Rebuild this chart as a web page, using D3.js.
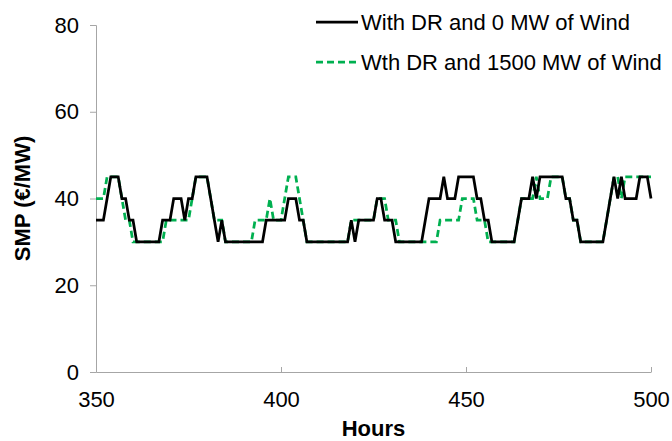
<!DOCTYPE html>
<html>
<head>
<meta charset="utf-8">
<script src="https://cdn.jsdelivr.net/npm/d3@7"></script>
<style>
  body { margin: 0; background: #fff; }
  text { font-family: "Liberation Sans", Arial, sans-serif; }
</style>
</head>
<body>
<script>
const w = 672;
const h = 441;

// hours 350..500, one value per hour
const startHour = 350;
const noWind = [
  35,35,35,40,45,45,45,40,40,35,
  35,30,30,30,30,30,30,30,35,35,
  35,40,40,40,35,40,40,45,45,45,
  45,40,35,30,35,30,30,30,30,30,
  30,30,30,30,30,30,35,35,35,35,
  35,35,40,40,40,35,35,30,30,30,
  30,30,30,30,30,30,30,30,30,35,
  30,35,35,35,35,35,40,40,35,35,
  35,30,30,30,30,30,30,30,30,35,
  40,40,40,40,45,40,40,40,45,45,
  45,45,45,40,40,35,35,30,30,30,
  30,30,30,30,35,40,40,40,45,40,
  45,45,45,45,45,45,45,40,40,35,
  35,30,30,30,30,30,30,30,35,40,
  45,40,45,40,40,40,40,45,45,45,
  40
];
const wind1500 = [
  40,40,40,45,45,45,45,40,35,35,
  30,30,30,30,30,30,30,30,30,35,
  35,35,35,35,35,35,40,45,45,45,
  45,40,35,35,35,30,30,30,30,30,
  30,30,30,35,35,35,35,40,35,35,
  35,40,45,45,45,40,35,30,30,30,
  30,30,30,30,30,30,30,30,30,35,
  35,35,35,35,35,35,40,40,40,35,
  35,35,30,30,30,30,30,30,30,30,
  30,30,30,35,35,35,35,35,35,40,
  40,40,40,35,35,35,30,30,30,30,
  30,30,30,30,35,40,40,40,40,45,
  40,40,40,45,45,45,45,40,40,35,
  35,30,30,30,30,30,30,30,35,40,
  45,45,40,45,45,45,45,45,45,45,
  45
];
const xTicks = [350, 400, 450, 500];
const yTicks = [0, 20, 40, 60, 80];
const seriesNames = ["With DR and 0 MW of Wind", "Wth DR and 1500 MW of Wind"];

const margin = { left: 96, right: 21, top: 25, bottom: 69 };

const svg = d3.select("body").append("svg").attr("width", w).attr("height", h);

const xScale = d3.scaleLinear().domain([350, 500]).range([margin.left, w - margin.right]);
const yScale = d3.scaleLinear().domain([0, 80]).range([h - margin.bottom, margin.top]);

const axisColor = "#a6a6a6";

// y axis
const yAxis = svg.append("g")
  .attr("transform", "translate(" + margin.left + ",0)")
  .call(d3.axisLeft(yScale).tickValues(yTicks).tickSize(6).tickPadding(11));
yAxis.selectAll("path, line").attr("stroke", axisColor);
yAxis.selectAll("text").attr("font-size", 22).attr("fill", "#000");

// x axis
const xAxis = svg.append("g")
  .attr("transform", "translate(0," + yScale(0) + ")")
  .call(d3.axisBottom(xScale).tickValues(xTicks).tickSizeInner(-5).tickSizeOuter(0).tickPadding(19));
xAxis.selectAll("path, line").attr("stroke", axisColor);
xAxis.selectAll("text").attr("font-size", 22).attr("fill", "#000");

const line = d3.line()
  .x((d, i) => xScale(startHour + i))
  .y(d => yScale(d));

svg.append("path")
  .datum(wind1500)
  .attr("fill", "none")
  .attr("stroke", "#00b050")
  .attr("stroke-width", 2.75)
  .attr("stroke-dasharray", "7,4")
  .attr("d", line);

svg.append("path")
  .datum(noWind)
  .attr("fill", "none")
  .attr("stroke", "#000")
  .attr("stroke-width", 2.75)
  .attr("d", line);

// axis titles
svg.append("text")
  .attr("x", (xScale(350) + xScale(500)) / 2)
  .attr("y", 436)
  .attr("text-anchor", "middle")
  .attr("font-size", 22)
  .attr("font-weight", "bold")
  .text("Hours");

svg.append("text")
  .attr("transform", "translate(30," + yScale(40) + ")rotate(-90)")
  .attr("text-anchor", "middle")
  .attr("font-size", 22)
  .attr("font-weight", "bold")
  .text("SMP (€/MW)");

// legend
const legend = svg.append("g");
const legendStyles = [
  { color: "#000", dash: null },
  { color: "#00b050", dash: "7,4" }
];
seriesNames.forEach(function (name, i) {
  const ly = 22 + i * 40;
  legend.append("line")
    .attr("x1", 316).attr("x2", 358)
    .attr("y1", ly).attr("y2", ly)
    .attr("stroke", legendStyles[i].color)
    .attr("stroke-width", 2.75)
    .attr("stroke-dasharray", legendStyles[i].dash);
  legend.append("text")
    .attr("x", 361)
    .attr("y", ly + 8)
    .attr("font-size", 22)
    .text(name);
});
</script>
</body>
</html>
